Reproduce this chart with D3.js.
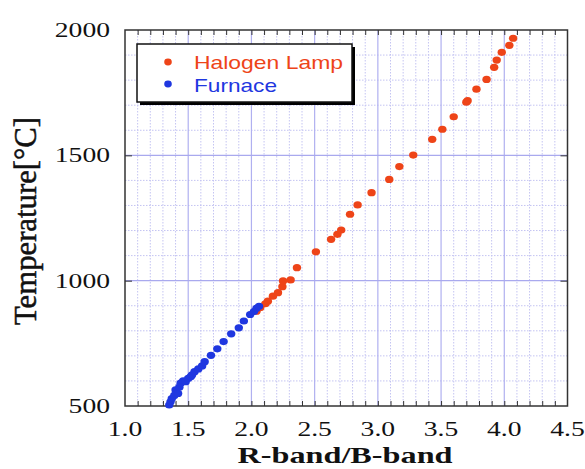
<!DOCTYPE html>
<html>
<head>
<meta charset="utf-8">
<script src="https://cdn.jsdelivr.net/npm/d3@7"></script>
<style>
  body { margin: 0; background: #fff; }
  svg { display: block; }
</style>
</head>
<body>
<svg id="chart" width="585" height="469"></svg>
<script>
// data
const halogenX = [2.04, 2.07, 2.11, 2.13, 2.17, 2.21, 2.245, 2.25, 2.31, 2.36, 2.51, 2.63, 2.68, 2.71, 2.78, 2.84, 2.95, 3.09, 3.17, 3.28, 3.43, 3.51, 3.60, 3.70, 3.71, 3.78, 3.86, 3.92, 3.94, 3.98, 4.04, 4.07];
const halogenT = [878, 893, 908, 918, 938, 952, 976, 999, 1003, 1052, 1115, 1165, 1185, 1202, 1265, 1302, 1351, 1404, 1455, 1501, 1564, 1604, 1654, 1712, 1718, 1764, 1803, 1851, 1880, 1911, 1939, 1967];
const furnaceX = [1.35, 1.36, 1.37, 1.39, 1.40, 1.42, 1.43, 1.44, 1.46, 1.48, 1.50, 1.52, 1.53, 1.55, 1.58, 1.61, 1.63, 1.68, 1.73, 1.78, 1.84, 1.90, 1.94, 1.99, 2.02, 2.04, 2.06];
const furnaceT = [504, 517, 530, 542, 564, 550, 575, 591, 600, 597, 610, 617, 624, 637, 648, 660, 677, 702, 728, 757, 788, 812, 839, 865, 877, 890, 898];
const xTicks = [1.0, 1.5, 2.0, 2.5, 3.0, 3.5, 4.0, 4.5];
const yTicks = [500, 1000, 1500, 2000];
const seriesNames = ["Halogen Lamp", "Furnace"];
const seriesColors = ["#ee4418", "#1f37e0"];

const svg = d3.select("#chart");
const L = 125, R = 567.5, T = 30, B = 406;

const x = d3.scaleLinear().domain([1.0, 4.5]).range([L, R]);
const y = d3.scaleLinear().domain([500, 2000]).range([B, T]);

// grid
const g = svg.append("g");
g.selectAll(".vminor").data(d3.range(11, 45).map(d => d / 10).filter(d => Math.round(d * 10) % 5 != 0))
  .enter().append("line")
  .attr("x1", d => x(d)).attr("x2", d => x(d)).attr("y1", T).attr("y2", B)
  .attr("stroke", "#c4c4f2").attr("stroke-width", 1).attr("stroke-dasharray", "1.5,1.5");
g.selectAll(".hminor").data(d3.range(600, 2000, 100).filter(d => d % 500 != 0))
  .enter().append("line")
  .attr("x1", L).attr("x2", R).attr("y1", d => y(d)).attr("y2", d => y(d))
  .attr("stroke", "#c4c4f2").attr("stroke-width", 1).attr("stroke-dasharray", "1.5,1.5");
g.selectAll(".vmajor").data([1.5, 2.0, 2.5, 3.0, 3.5, 4.0])
  .enter().append("line")
  .attr("x1", d => x(d)).attr("x2", d => x(d)).attr("y1", T).attr("y2", B)
  .attr("stroke", "#b0b0f0").attr("stroke-width", 1.2);
g.selectAll(".hmajor").data([1000, 1500])
  .enter().append("line")
  .attr("x1", L).attr("x2", R).attr("y1", d => y(d)).attr("y2", d => y(d))
  .attr("stroke", "#a9a9ee").attr("stroke-width", 1.2);

// ticks on the frame
const minorX = d3.range(11, 45).map(d => d / 10);
svg.append("g").attr("transform", `translate(0,${B})`)
  .call(d3.axisBottom(x).tickValues(minorX).tickSize(-5).tickFormat(""))
  .call(a => a.select(".domain").remove())
  .selectAll("line").attr("stroke", "#333");
svg.append("g").attr("transform", `translate(0,${T})`)
  .call(d3.axisTop(x).tickValues(minorX).tickSize(-5).tickFormat(""))
  .call(a => a.select(".domain").remove())
  .selectAll("line").attr("stroke", "#333");
svg.append("g").attr("transform", `translate(${L},0)`)
  .call(d3.axisLeft(y).tickValues([1000, 1500]).tickSize(-7).tickFormat(""))
  .call(a => a.select(".domain").remove())
  .selectAll("line").attr("stroke", "#333");
svg.append("g").attr("transform", `translate(${R},0)`)
  .call(d3.axisRight(y).tickValues([1000, 1500]).tickSize(-7).tickFormat(""))
  .call(a => a.select(".domain").remove())
  .selectAll("line").attr("stroke", "#333");

// frame
svg.append("rect").attr("x", L).attr("y", T).attr("width", R - L).attr("height", B - T)
  .attr("fill", "none").attr("stroke", "#333").attr("stroke-width", 1.5);

// tick labels, stretched sideways like the picture
const serif = "'Liberation Serif', 'Times New Roman', serif";
svg.selectAll(".xl").data(xTicks).enter().append("text")
  .attr("transform", d => `translate(${x(d)},436) scale(1.38,1)`)
  .attr("text-anchor", "middle").attr("font-family", serif).attr("font-size", 20)
  .attr("fill", "#111").text(d => d.toFixed(1));
svg.selectAll(".yl").data(yTicks).enter().append("text")
  .attr("transform", d => `translate(110,${y(d) + 7}) scale(1.38,1)`)
  .attr("text-anchor", "end").attr("font-family", serif).attr("font-size", 20)
  .attr("fill", "#111").text(d => d);

// axis titles
svg.append("text").attr("x", 345).attr("y", 463).attr("text-anchor", "middle")
  .attr("font-family", serif).attr("font-size", 24).attr("font-weight", "bold")
  .attr("textLength", 215).attr("lengthAdjust", "spacingAndGlyphs")
  .attr("fill", "#111").text("R-band/B-band");
svg.append("text").attr("transform", "translate(36,221) scale(1.3,1) rotate(-90)").attr("text-anchor", "middle")
  .attr("font-family", serif).attr("font-size", 25)
  .attr("stroke", "#111").attr("stroke-width", 0.4)
  .attr("textLength", 208).attr("lengthAdjust", "spacingAndGlyphs")
  .attr("fill", "#111").text("Temperature[°C]");

// points
const dots = svg.append("g");
const pts = [
  { xs: halogenX, ys: halogenT, c: seriesColors[0] },
  { xs: furnaceX, ys: furnaceT, c: seriesColors[1] }
];
pts.forEach(s => {
  dots.selectAll(null).data(d3.range(s.xs.length)).enter().append("ellipse")
    .attr("cx", i => x(s.xs[i])).attr("cy", i => y(s.ys[i]))
    .attr("rx", 4.2).attr("ry", 3.6).attr("fill", s.c);
});

// legend
const lg = svg.append("g");
lg.append("rect").attr("x", 140).attr("y", 47).attr("width", 215).attr("height", 58).attr("fill", "#000");
lg.append("rect").attr("x", 137).attr("y", 44).attr("width", 215).attr("height", 58)
  .attr("fill", "#fff").attr("stroke", "#111").attr("stroke-width", 1.5);
seriesNames.forEach((n, i) => {
  lg.append("ellipse").attr("cx", 168).attr("cy", 62 + i * 22).attr("rx", 3.8).attr("ry", 3.4).attr("fill", seriesColors[i]);
  lg.append("text").attr("x", 194).attr("y", 69 + i * 23)
    .attr("font-family", "'Liberation Sans', Arial, sans-serif").attr("font-size", 19)
    .attr("textLength", i == 0 ? 149 : 83).attr("lengthAdjust", "spacingAndGlyphs")
    .attr("fill", seriesColors[i]).text(n);
});
</script>
</body>
</html>
